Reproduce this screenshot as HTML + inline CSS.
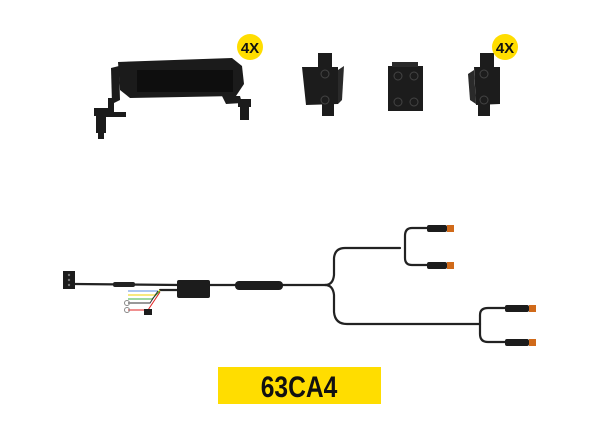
<!DOCTYPE html>
<html><head><style>
html,body{margin:0;padding:0;background:#fff;width:600px;height:440px;overflow:hidden}
svg{display:block}
</style></head><body>
<svg width="600" height="440" viewBox="0 0 600 440" xmlns="http://www.w3.org/2000/svg">
<g fill="#1b1b1b">
<path d="M118 62 L232 58 L242 66 L244 84 L236 96 L130 98 L120 90 Z"/>
<rect x="137" y="70" width="96" height="22" fill="#0e0e0e"/>
<path d="M111 68 L119 66 L120 100 L112 104 Z"/>
<rect x="108" y="98" width="6" height="18"/>
<rect x="96" y="112" width="30" height="5"/>
<rect x="94" y="108" width="14" height="8"/>
<rect x="96" y="117" width="10" height="16"/>
<rect x="98" y="133" width="6" height="6"/>
<path d="M222 96 L240 96 L242 103 L226 104 Z"/>
<rect x="238" y="99" width="13" height="8"/>
<rect x="240" y="106" width="9" height="14"/>
</g>
<circle cx="250" cy="47" r="13" fill="#ffdd00"/>
<text x="250" y="53" text-anchor="middle" font-family="Liberation Sans, sans-serif" font-weight="bold" font-size="15" fill="#111">4X</text>
<g fill="#1c1c1c">
<rect x="318" y="53" width="14" height="20"/>
<path d="M302 67 L338 67 L338 104 L306 105 Z"/>
<path d="M338 70 L344 66 L342 100 L338 104 Z" fill="#2a2a2a"/>
<rect x="322" y="104" width="12" height="12"/>
</g>
<circle cx="325" cy="74" r="4" fill="none" stroke="#444"/>
<circle cx="325" cy="100" r="4" fill="none" stroke="#444"/>
<rect x="388" y="66" width="35" height="45" fill="#1c1c1c"/>
<rect x="392" y="62" width="26" height="5" fill="#2a2a2a"/>
<g fill="none" stroke="#444"><circle cx="398" cy="76" r="4"/><circle cx="414" cy="76" r="4"/><circle cx="398" cy="102" r="4"/><circle cx="414" cy="102" r="4"/></g>
<g fill="#1c1c1c">
<rect x="480" y="53" width="14" height="20"/>
<path d="M474 67 L500 67 L500 104 L476 105 Z"/>
<path d="M474 70 L468 74 L470 100 L476 104 Z" fill="#2a2a2a"/>
<rect x="478" y="104" width="12" height="12"/>
</g>
<circle cx="484" cy="74" r="4" fill="none" stroke="#444"/>
<circle cx="484" cy="100" r="4" fill="none" stroke="#444"/>
<circle cx="505" cy="47" r="13" fill="#ffdd00"/>
<text x="505" y="53" text-anchor="middle" font-family="Liberation Sans, sans-serif" font-weight="bold" font-size="15" fill="#111">4X</text>

<rect x="63" y="271" width="12" height="18" fill="#1c1c1c"/>
<g fill="#777"><circle cx="69" cy="275" r="1.2"/><circle cx="69" cy="280" r="1.2"/><circle cx="69" cy="285" r="1.2"/></g>
<g fill="none" stroke="#222" stroke-width="2.2" stroke-linecap="round">
<path d="M75 284 L180 285"/>
<path d="M160 290 L180 290"/>
<path d="M209 285 L325 285 Q333 285 334 275 L334 258 Q335 248 345 248 L400 248"/>
<path d="M325 285 Q333 285 334 295 L334 312 Q335 324 347 324 L480 324"/>
<path d="M405 248 L405 236 Q405 228 412 228 L430 228"/>
<path d="M405 248 L405 258 Q405 265 412 265 L430 265"/>
<path d="M480 324 L480 315 Q480 308 488 308 L508 308"/>
<path d="M480 324 L480 334 Q480 342 488 342 L508 342"/>
</g>
<rect x="113" y="282" width="22" height="5" rx="2" fill="#222"/>
<rect x="177" y="280" width="33" height="18" rx="2" fill="#1c1c1c"/>
<rect x="235" y="281" width="48" height="9" rx="4" fill="#1c1c1c"/>
<g fill="none" stroke-width="1">
<path d="M128 291 L158 291" stroke="#5b8de0"/>
<path d="M128 295 L155 295 L160 290" stroke="#f0d000"/>
<path d="M128 299 L152 299 L160 291" stroke="#3cb043"/>
<path d="M128 303 L150 303 L158 291" stroke="#333"/>
<path d="M128 310 L148 310 L160 292" stroke="#e02020"/>
</g>
<circle cx="127" cy="303" r="2.5" fill="none" stroke="#888"/>
<circle cx="127" cy="310" r="2.5" fill="none" stroke="#888"/>
<rect x="144" y="309" width="8" height="6" fill="#1c1c1c"/>
<g fill="#1c1c1c">
<rect x="427" y="225" width="20" height="7" rx="2"/><rect x="427" y="262" width="20" height="7" rx="2"/>
<rect x="505" y="305" width="24" height="7" rx="2"/><rect x="505" y="339" width="24" height="7" rx="2"/>
</g>
<g fill="#d06a1a">
<rect x="447" y="225" width="7" height="7"/><rect x="447" y="262" width="7" height="7"/>
<rect x="529" y="305" width="7" height="7"/><rect x="529" y="339" width="7" height="7"/>
</g>
<rect x="218" y="367" width="163" height="37" fill="#ffdd00"/>
<text transform="translate(299,397) scale(0.82,1)" text-anchor="middle" font-family="Liberation Sans, sans-serif" font-weight="bold" font-size="30" fill="#111">63CA4</text>
</svg>
</body></html>
